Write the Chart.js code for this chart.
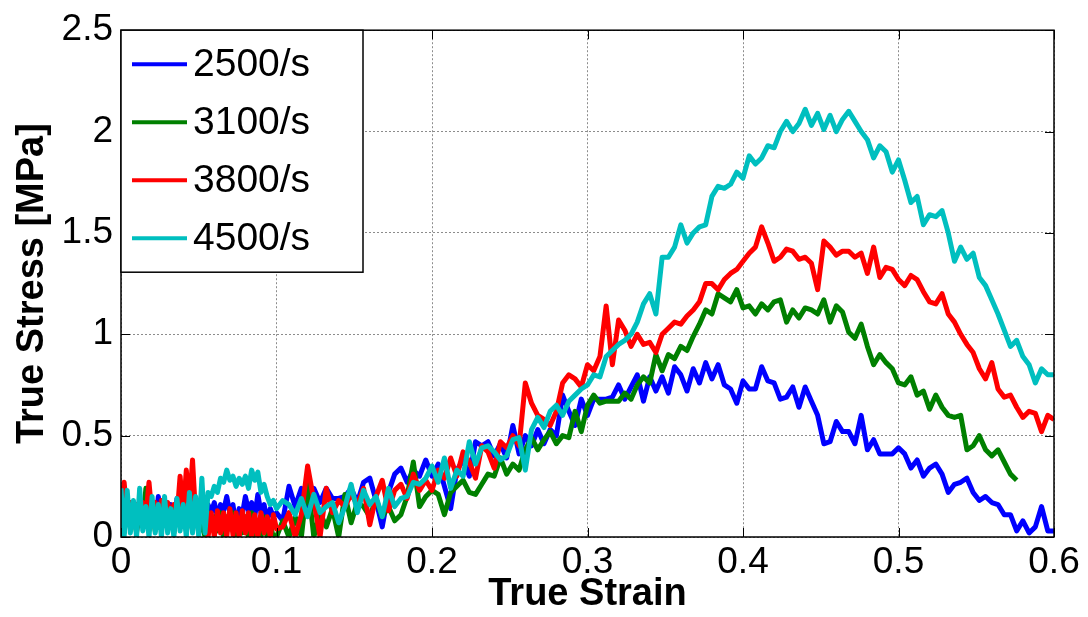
<!DOCTYPE html>
<html>
<head>
<meta charset="utf-8">
<title>True stress vs true strain</title>
<script src="https://cdn.jsdelivr.net/npm/chart.js@4.4.1/dist/chart.umd.min.js"></script>
<style>
  html, body { margin: 0; padding: 0; background: #fff; }
  #wrap { width: 1088px; height: 617px; position: relative; }
</style>
</head>
<body>
<div id="wrap"><canvas id="chart"></canvas></div>
<script>
// Strain samples (shared x values, denser in the noisy start)
const strain = [
  0,0.002,0.004,0.006,0.008,0.01,0.012,0.014,0.016,0.018,
  0.02,0.022,0.024,0.026,0.028,0.03,0.032,0.034,0.036,0.038,
  0.04,0.042,0.044,0.046,0.048,0.05,0.052,0.054,0.056,0.058,
  0.06,0.062,0.064,0.066,0.068,0.07,0.072,0.074,0.076,0.078,
  0.08,0.082,0.084,0.086,0.088,0.09,0.092,0.094,0.096,0.098,
  0.1,0.104,0.108,0.112,0.116,
  0.12,0.124,0.128,0.132,0.136,0.14,0.144,0.148,0.152,0.156,
  0.16,0.164,0.168,0.172,0.176,0.18,0.184,0.188,0.192,0.196,
  0.2,0.204,0.208,0.212,0.216,0.22,0.224,0.228,0.232,0.236,
  0.24,0.244,0.248,0.252,0.256,0.26,0.264,0.268,0.272,0.276,
  0.28,0.284,0.288,0.292,0.296,0.3,0.304,0.308,0.312,0.316,
  0.32,0.324,0.328,0.332,0.336,0.34,0.344,0.348,0.352,0.356,
  0.36,0.364,0.368,0.372,0.376,0.38,0.384,0.388,0.392,0.396,
  0.4,0.404,0.408,0.412,0.416,0.42,0.424,0.428,0.432,0.436,
  0.44,0.444,0.448,0.452,0.456,0.46,0.464,0.468,0.472,0.476,
  0.48,0.484,0.488,0.492,0.496,0.5,0.504,0.508,0.512,0.516,
  0.52,0.524,0.528,0.532,0.536,0.54,0.544,0.548,0.552,0.556,
  0.56,0.564,0.568,0.572,0.576,0.58,0.584,0.588,0.592,0.596,
  0.6
];

// True stress [MPa] per strain rate
const stress2500 = [
  0.12,0.04,0.18,0.06,0.15,0.03,0.19,0.07,0.14,0.04,
  0.17,0.05,0.2,0.08,0.13,0.04,0.16,0.07,0.19,0.1,
  0.15,0.05,0.17,0.08,0.14,0.06,0.18,0.1,0.16,0.12,
  0.17,0.1,0.16,0.13,0.2,0.12,0.16,0.05,0.14,0.11,
  0.2,0.13,0.17,0.1,0.21,0.12,0.16,0.08,0.14,0.1,
  0.12,0.08,0.25,0.15,0.24,
  0.13,0.24,0.17,0.24,0.19,0.19,0.2,0.24,0.17,0.27,
  0.29,0.18,0.05,0.22,0.31,0.34,0.27,0.33,0.3,0.38,
  0.3,0.36,0.25,0.14,0.33,0.38,0.3,0.47,0.45,0.47,
  0.4,0.46,0.39,0.55,0.41,0.5,0.45,0.53,0.46,0.53,
  0.5,0.7,0.62,0.55,0.68,0.6,0.68,0.68,0.68,0.69,
  0.75,0.68,0.74,0.8,0.67,0.79,0.72,0.79,0.71,0.84,
  0.8,0.72,0.83,0.76,0.86,0.78,0.85,0.75,0.73,0.66,
  0.77,0.73,0.73,0.84,0.77,0.76,0.68,0.69,0.74,0.64,
  0.74,0.67,0.6,0.46,0.47,0.57,0.52,0.52,0.46,0.6,
  0.43,0.48,0.41,0.41,0.41,0.44,0.41,0.34,0.38,0.3,
  0.34,0.36,0.31,0.22,0.26,0.27,0.29,0.22,0.18,0.2,
  0.17,0.16,0.11,0.11,0.03,0.08,0.02,0.05,0.15,0.03,
  0.03
];
const stress3100 = [
  0.1,0.02,0.16,0.05,0.13,0.02,0.15,0.06,0.24,0.08,
  0.16,0.03,0.12,0.06,0.17,0.04,0.13,0.02,0.15,0.08,
  0.12,0.03,0.1,0.05,0.14,0.02,0.09,0,0.12,0.05,
  0.1,0.03,0.12,0,0.1,0.04,0.12,0,0.08,0.02,
  0.1,0,0.12,0,0.08,0,0.1,0,0.06,0,
  0,0.08,0,0.1,0,
  0.28,0,0.12,0.05,0.14,0,0.21,0.07,0.17,0.15,
  0.1,0.19,0.1,0.15,0.08,0.11,0.2,0.37,0.15,0.2,
  0.23,0.21,0.11,0.22,0.25,0.28,0.22,0.21,0.26,0.31,
  0.3,0.39,0.31,0.36,0.33,0.43,0.49,0.43,0.48,0.52,
  0.46,0.5,0.49,0.62,0.52,0.65,0.7,0.66,0.67,0.67,
  0.67,0.71,0.68,0.75,0.79,0.76,0.9,0.82,0.9,0.88,
  0.94,0.92,0.99,1.05,1.12,1.1,1.2,1.18,1.16,1.22,
  1.13,1.14,1.1,1.15,1.12,1.16,1.17,1.06,1.12,1.08,
  1.13,1.12,1.1,1.17,1.06,1.14,1.11,1.01,0.98,1.05,
  0.94,0.85,0.9,0.86,0.83,0.76,0.75,0.79,0.7,0.72,
  0.63,0.7,0.64,0.6,0.59,0.6,0.43,0.45,0.5,0.43,
  0.4,0.43,0.37,0.31,0.28
];
const stress3800 = [
  0.15,0.27,0.1,0.17,0.09,0.16,0.1,0.17,0.1,0.27,
  0.1,0.17,0.09,0.18,0.1,0.17,0.09,0.16,0.1,0.3,
  0.12,0.33,0.15,0.38,0.1,0.17,0.1,0.15,0,0.12,
  0,0.13,0.02,0.12,0,0.14,0.01,0.12,0,0.13,
  0.02,0.12,0,0.11,0,0.12,0.02,0.1,0,0.11,
  0.04,0.05,0.12,0,0.11,
  0.35,0.18,0,0.24,0.12,0.18,0.15,0.21,0.16,0.24,
  0.06,0.2,0.28,0.13,0.23,0.26,0.19,0.31,0.23,0.28,
  0.23,0.33,0.29,0.39,0.3,0.42,0.37,0.29,0.45,0.42,
  0.34,0.47,0.44,0.5,0.45,0.76,0.66,0.6,0.58,0.55,
  0.62,0.76,0.8,0.78,0.74,0.85,0.82,0.89,1.14,0.85,
  1.07,1.02,0.94,1.0,0.95,0.96,0.91,1.0,1.03,1.06,
  1.05,1.09,1.12,1.16,1.25,1.25,1.22,1.27,1.3,1.32,
  1.36,1.4,1.43,1.53,1.45,1.36,1.38,1.42,1.41,1.37,
  1.38,1.35,1.22,1.46,1.43,1.39,1.41,1.41,1.38,1.4,
  1.3,1.43,1.28,1.33,1.32,1.27,1.24,1.29,1.27,1.21,
  1.16,1.15,1.2,1.1,1.06,1.0,0.95,0.91,0.83,0.78,
  0.86,0.73,0.69,0.7,0.64,0.59,0.62,0.61,0.52,0.6,
  0.58
];
const stress4500 = [
  0.24,0,0.23,0.02,0.18,0,0.24,0.03,0.15,0,
  0.2,0.02,0.16,0,0.2,0.02,0.14,0,0.19,0.03,
  0.16,0,0.22,0.02,0.2,0,0.29,0.02,0.22,0.2,
  0.25,0.22,0.29,0.27,0.33,0.28,0.3,0.25,0.29,0.26,
  0.3,0.24,0.33,0.28,0.32,0.22,0.26,0.2,0.16,0.18,
  0.14,0.18,0.16,0.11,0.19,
  0.1,0.21,0.12,0.15,0.17,0.07,0.15,0.26,0.12,0.23,
  0.16,0.2,0.1,0.24,0.15,0.19,0.2,0.27,0.26,0.29,
  0.35,0.27,0.39,0.24,0.33,0.3,0.47,0.36,0.44,0.45,
  0.42,0.38,0.4,0.48,0.49,0.33,0.53,0.59,0.54,0.62,
  0.65,0.6,0.67,0.7,0.73,0.75,0.8,0.79,0.89,0.92,
  0.95,0.97,1.0,1.06,1.15,1.2,1.1,1.38,1.38,1.43,
  1.54,1.45,1.5,1.53,1.54,1.68,1.73,1.72,1.74,1.8,
  1.77,1.88,1.84,1.87,1.93,1.92,2.0,2.05,2.0,2.04,
  2.11,2.03,2.09,2.01,2.08,2.0,2.06,2.1,2.05,2.0,
  1.96,1.87,1.93,1.9,1.8,1.86,1.76,1.65,1.68,1.54,
  1.59,1.58,1.61,1.5,1.36,1.43,1.37,1.4,1.28,1.24,
  1.17,1.1,1.02,0.94,0.97,0.89,0.85,0.76,0.83,0.8,
  0.8
];

const seriesNames = ['2500/s', '3100/s', '3800/s', '4500/s'];
const seriesColors = ['#0000ff', '#008000', '#ff0000', '#00bfbf'];
const seriesValues = [stress2500, stress3100, stress3800, stress4500];

const xTickValues = [0, 0.1, 0.2, 0.3, 0.4, 0.5, 0.6];
const xTickLabels = ['0', '0.1', '0.2', '0.3', '0.4', '0.5', '0.6'];
const yTickValues = [0, 0.5, 1, 1.5, 2, 2.5];
const yTickLabels = ['0', '0.5', '1', '1.5', '2', '2.5'];

const FONT = '"Liberation Sans", Arial, Helvetica, sans-serif';

// MATLAB-style box, inward ticks and legend
const matlabBox = {
  id: 'matlabBox',
  afterDatasetsDraw(chart) {
    const { ctx, chartArea: a, scales } = chart;
    ctx.save();
    ctx.strokeStyle = '#000';
    ctx.lineWidth = 1;
    const tl = 9;
    ctx.beginPath();
    scales.x.ticks.forEach(t => {
      const px = Math.round(scales.x.getPixelForValue(t.value)) + 0.5;
      ctx.moveTo(px, a.bottom); ctx.lineTo(px, a.bottom - tl);
      ctx.moveTo(px, a.top); ctx.lineTo(px, a.top + tl);
    });
    scales.y.ticks.forEach(t => {
      const py = Math.round(scales.y.getPixelForValue(t.value)) + 0.5;
      ctx.moveTo(a.left, py); ctx.lineTo(a.left + tl, py);
      ctx.moveTo(a.right, py); ctx.lineTo(a.right - tl, py);
    });
    ctx.stroke();
    ctx.lineWidth = 1.5;
    ctx.strokeRect(a.left, a.top, a.right - a.left, a.bottom - a.top);

    // legend box
    const lx = a.left, ly = a.top, lw = 242, lh = 242;
    ctx.fillStyle = '#fff';
    ctx.fillRect(lx, ly, lw, lh);
    ctx.lineWidth = 1.5;
    ctx.strokeRect(lx, ly, lw, lh);
    ctx.font = '39px ' + FONT;
    ctx.textBaseline = 'middle';
    ctx.textAlign = 'left';
    seriesNames.forEach((name, k) => {
      const cy = ly + 34 + k * 58;
      ctx.strokeStyle = seriesColors[k];
      ctx.lineWidth = 4;
      ctx.beginPath();
      ctx.moveTo(lx + 11, cy);
      ctx.lineTo(lx + 66, cy);
      ctx.stroke();
      ctx.fillStyle = '#000';
      ctx.fillText(name, lx + 72, cy + 1);
    });
    ctx.restore();
  }
};

const datasets = seriesValues.map((vals, k) => ({
  label: seriesNames[k],
  data: vals.map((v, i) => ({ x: strain[i], y: v })),
  borderColor: seriesColors[k],
  backgroundColor: seriesColors[k],
  borderWidth: 5,
  borderJoinStyle: 'round',
  pointRadius: 0,
  tension: 0,
  fill: false,
  clip: 0,
  order: seriesValues.length - k
}));

const ctx = document.getElementById('chart').getContext('2d');
const chart = new Chart(ctx, {
  type: 'line',
  data: { datasets },
  options: {
    responsive: true,
    maintainAspectRatio: false,
    animation: false,
    devicePixelRatio: 1,
    layout: { padding: { left: 0, top: 24, right: 34, bottom: 0 } },
    plugins: {
      legend: { display: false },
      tooltip: { enabled: false }
    },
    scales: {
      x: {
        type: 'linear',
        min: 0,
        max: 0.6,
        afterBuildTicks: s => { s.ticks = xTickValues.map(v => ({ value: v })); },
        afterFit: s => { s.height = 80; },
        ticks: {
          callback: (v, i) => xTickLabels[i],
          color: '#000',
          font: { family: FONT, size: 37 },
          padding: 4,
          maxRotation: 0,
          autoSkip: false
        },
        grid: { color: 'rgba(0,0,0,0.45)', lineWidth: 1, drawTicks: false },
        border: { display: false, dash: [2, 2] },
        title: {
          display: true,
          text: 'True Strain',
          color: '#000',
          font: { family: FONT, size: 38, weight: 'bold' },
          padding: { top: 0, bottom: 0 }
        }
      },
      y: {
        type: 'linear',
        min: 0,
        max: 2.5,
        afterBuildTicks: s => { s.ticks = yTickValues.map(v => ({ value: v })); },
        afterFit: s => { s.width = 121; },
        ticks: {
          callback: (v, i) => yTickLabels[i],
          color: '#000',
          font: { family: FONT, size: 37 },
          padding: 8
        },
        grid: { color: 'rgba(0,0,0,0.45)', lineWidth: 1, drawTicks: false },
        border: { display: false, dash: [2, 2] },
        title: {
          display: true,
          text: 'True Stress [MPa]',
          color: '#000',
          font: { family: FONT, size: 38, weight: 'bold' },
          padding: { top: 10, bottom: 0 }
        }
      }
    }
  },
  plugins: [matlabBox]
});
</script>
</body>
</html>
